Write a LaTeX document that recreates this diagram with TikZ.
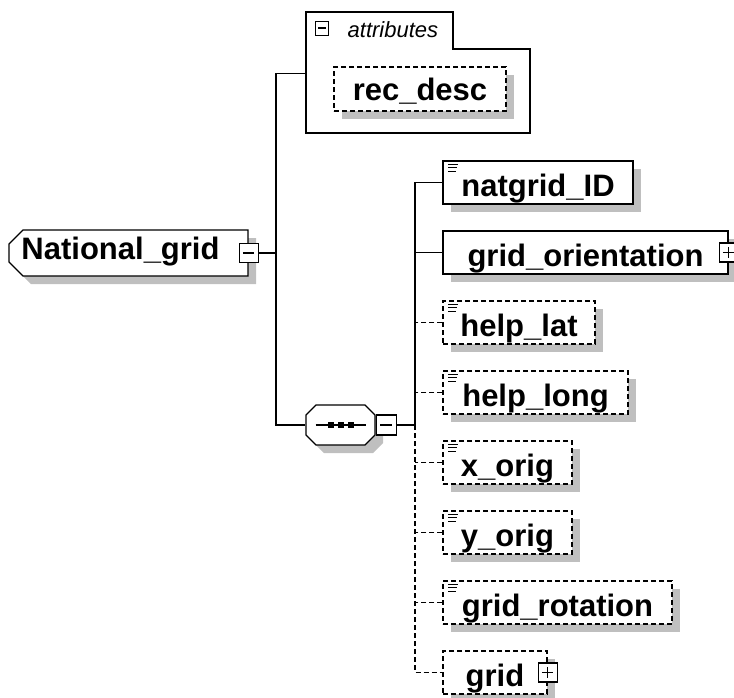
\documentclass[tikz,border=0pt]{standalone}
\usepackage{fontspec}
\setmainfont{Liberation Sans}
\usetikzlibrary{shapes.misc,shadows,calc}

\begin{document}
\begin{tikzpicture}[
    x=1pt, y=-1pt,
    line width=1.3pt,
    wire/.style={line width=1.3pt},
    optwire/.style={wire, dash pattern=on 5pt off 3pt},
    shade8/.style={drop shadow={shadow xshift=8pt, shadow yshift=-8pt, fill=black!25, opacity=1}},
    elem/.style={draw, fill=white, shade8, minimum height=43pt, inner sep=0pt,
      font=\fontsize{31}{36}\selectfont\bfseries, text height=31pt, text depth=4pt},
    opt/.style={elem, dash pattern=on 5pt off 3pt},
    doc/.style={path picture={
      \foreach \yy/\l in {3/10,6.5/9,10/8}
        \draw[solid, line width=1pt] ([xshift=5pt, yshift=-\yy pt]path picture bounding box.north west) -- ++(\l pt,0);}},
    tog/.style={draw, solid, fill=white, minimum size=19pt, inner sep=0pt},
    minus/.style={tog, path picture={
      \draw[solid, line width=1.4pt]
        ($(path picture bounding box.west)!0.2!(path picture bounding box.east)$) --
        ($(path picture bounding box.west)!0.8!(path picture bounding box.east)$);}},
    plus/.style={tog, path picture={
      \draw[solid, line width=1.4pt]
        ($(path picture bounding box.west)!0.2!(path picture bounding box.east)$) --
        ($(path picture bounding box.west)!0.8!(path picture bounding box.east)$)
        ($(path picture bounding box.north)!0.2!(path picture bounding box.south)$) --
        ($(path picture bounding box.north)!0.8!(path picture bounding box.south)$);}},
  ]
    \useasboundingbox (0,0) rectangle (734,697);

    % ---------- root element ----------
    \node[elem, chamfered rectangle, chamfered rectangle corners={north west, south west},
      chamfered rectangle xsep=7pt, chamfered rectangle ysep=7pt,
      minimum width=239pt, minimum height=38pt, text height=22pt, text depth=10pt]
      (national) at (128.5,253) {National\_grid\hspace*{16pt}};
    \node[minus] (ngtog) at (national.east) {};

    % ---------- attributes ----------
    \draw (306,12) -- (453,12) -- (453,49) -- (530,49) -- (530,133) -- (306,133) -- cycle;
    \node[minimum width=224pt, minimum height=121pt, anchor=north west, inner sep=0pt] (attrs) at (306,12) {};
    \node[minus, minimum width=13pt, minimum height=14pt, line width=1pt] (attrtog) at (322,28) {};
    \node[font=\fontsize{22}{26}\selectfont\itshape, anchor=base west, inner sep=0pt] (attrlbl) at (347,37) {attributes};
    \node[opt, minimum width=172pt, minimum height=44pt, text height=28pt, text depth=6pt] (recdesc) at (420,89) {rec\_desc};

    % ---------- sequence ----------
    \fill[black!25, shift={(8,8)}] (316,405) -- (365,405) -- (375,415) -- (375,435)
      -- (365,445) -- (316,445) -- (306,435) -- (306,415) -- cycle;
    \filldraw[fill=white] (316,405) -- (365,405) -- (375,415) -- (375,435)
      -- (365,445) -- (316,445) -- (306,435) -- (306,415) -- cycle;
    \node[minimum width=69pt, minimum height=40pt, inner sep=0pt] (seq) at (340.5,425) {};
    \draw ([xshift=-25pt]seq.center) -- ([xshift=25pt]seq.center);
    \foreach \d in {-10,0,10}
      \fill ([xshift=\d pt]seq.center) +(-3,-3) rectangle +(3,3);
    \node[minus, minimum width=20pt, minimum height=20pt, anchor=west] (seqtog) at (seq.east) {};

    % ---------- children ----------
    \node[elem, doc, minimum width=190pt] (natgrid)    at (538,182.5)   {natgrid\_ID};
    \node[elem, minimum width=285pt]      (gridorient) at (585.5,252.5) {grid\_orientation};
    \node[opt, doc, minimum width=152pt]  (helplat)    at (519,322.5)   {help\_lat};
    \node[opt, doc, minimum width=185pt]  (helplong)   at (535.5,392.5) {help\_long};
    \node[opt, doc, minimum width=129pt]  (xorig)      at (507.5,462.5) {x\_orig};
    \node[opt, doc, minimum width=129pt]  (yorig)      at (507.5,532.5) {y\_orig};
    \node[opt, doc, minimum width=229pt]  (gridrot)    at (557.5,602.5) {grid\_rotation};
    \node[opt, minimum width=104pt]       (grid)       at (495,672.5)   {grid};
    \node[plus] (orienttog) at (gridorient.east) {};
    \node[plus] (gridtog)   at (grid.east) {};

    % ---------- connectors ----------
    \coordinate (ltrunk) at (276,253);
    \coordinate (rtrunk) at (415,425);
    \draw[wire] (ngtog.east) -- (ngtog.east -| ltrunk);
    \draw[wire] (attrs.west) -| (seq.west -| ltrunk) -- (seq.west);
    \draw[wire] (seqtog.east) -- (rtrunk);
    \draw[wire] (natgrid.west) -| (rtrunk);
    \draw[wire] (gridorient.west) -- (gridorient.west -| rtrunk);
    \draw[optwire] (rtrunk) |- (grid.west);
    \foreach \n in {helplat,helplong,xorig,yorig,gridrot}
      \draw[optwire] (\n.west) -- (\n.west -| rtrunk);
\end{tikzpicture}
\end{document}
